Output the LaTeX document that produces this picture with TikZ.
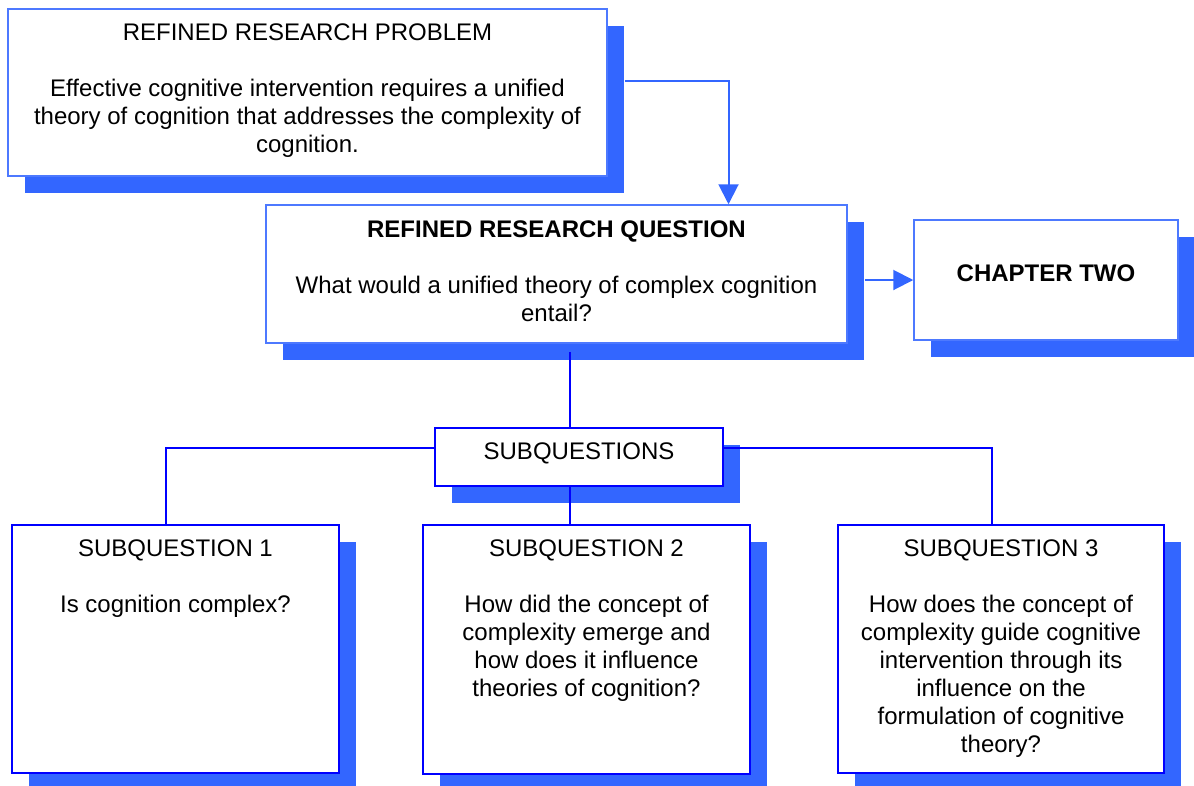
\documentclass[tikz,border=0pt]{standalone}
\usepackage{fontspec}
\setmainfont{Liberation Sans}
\usepackage{xcolor}
\usepackage{tikz}
\usetikzlibrary{arrows.meta,positioning,shadows}
\definecolor{shade}{HTML}{3366FF}
\definecolor{paleline}{HTML}{4D79FF}
\definecolor{deepline}{HTML}{0000FF}

\begin{document}
\begin{tikzpicture}[x=1pt, y=-1pt,
    upper/.style={draw=paleline, line width=1.5pt, fill=white, drop shadow={shadow xshift=17pt, shadow yshift=-17pt, opacity=1, fill=shade}},
    lower/.style={upper, draw=deepline, line width=2pt},
    boxtext/.style={align=center, inner sep=0pt, font=\fontsize{24}{28}\selectfont},
    uparrow/.style={draw=shade, line width=2pt, -{Triangle[length=20pt, width=20pt]}},
    link/.style={draw=deepline, line width=2pt}
]
\useasboundingbox (0,0) rectangle (1194,785);

% boxes
\node[upper, minimum width=599pt, minimum height=167pt] (problem) at (307.5,92.5) {};
\node[upper, minimum width=581pt, minimum height=138pt] (question) at (556.5,274) {};
\node[upper, minimum width=264pt, minimum height=120pt] (chapter) at (1046,280) {};
\node[lower, minimum width=288pt, minimum height=58pt] (subq) at (579,457) {};
\node[lower, minimum width=327pt, minimum height=248pt] (sub1) at (175.5,649) {};
\node[lower, minimum width=327pt, minimum height=249pt] (sub2) at (586.5,649.5) {};
\node[lower, minimum width=326pt, minimum height=248pt] (sub3) at (1001,649) {};

% texts
\node[boxtext, below=15pt of problem.north] (problemtext) {REFINED RESEARCH PROBLEM\\[28pt]Effective cognitive intervention requires a unified\\theory of cognition that addresses the complexity of\\cognition.};
\node[boxtext, below=16pt of question.north] (questiontext) {\textbf{REFINED RESEARCH QUESTION}\\[28pt]What would a unified theory of complex cognition\\entail?};
\node[boxtext] (chaptertext) at ([yshift=7pt]chapter.center) {\textbf{CHAPTER TWO}};
\node[boxtext, below=16pt of subq.north] (subqtext) {SUBQUESTIONS};
\node[boxtext, below=15.5pt of sub1.north] (sub1text) {SUBQUESTION 1\\[28pt]Is cognition complex?};
\node[boxtext, below=15.5pt of sub2.north] (sub2text) {SUBQUESTION 2\\[28pt]How did the concept of\\complexity emerge and\\how does it influence\\theories of cognition?};
\node[boxtext, below=15.5pt of sub3.north] (sub3text) {SUBQUESTION 3\\[28pt]How does the concept of\\complexity guide cognitive\\intervention through its\\influence on the\\formulation of cognitive\\theory?};

% connectors
\draw[uparrow] ([xshift=17pt, yshift=12pt]problem.east) -| ([xshift=172pt]question.north);
\draw[uparrow] ([xshift=17pt]question.east |- chapter.west) -- (chapter.west);
\draw[link] ([xshift=13.5pt, yshift=-8pt]question.south) -- ([xshift=-9pt]subq.north);
\draw[link] ([xshift=-9pt]subq.south) -- ([xshift=-16.5pt]sub2.north);
\foreach \side/\target/\dx in {west/sub1/-9.5pt, east/sub3/-9pt}
    \draw[link] ([yshift=9pt]subq.\side) -| ([xshift=\dx]\target.north);
\end{tikzpicture}
\end{document}
